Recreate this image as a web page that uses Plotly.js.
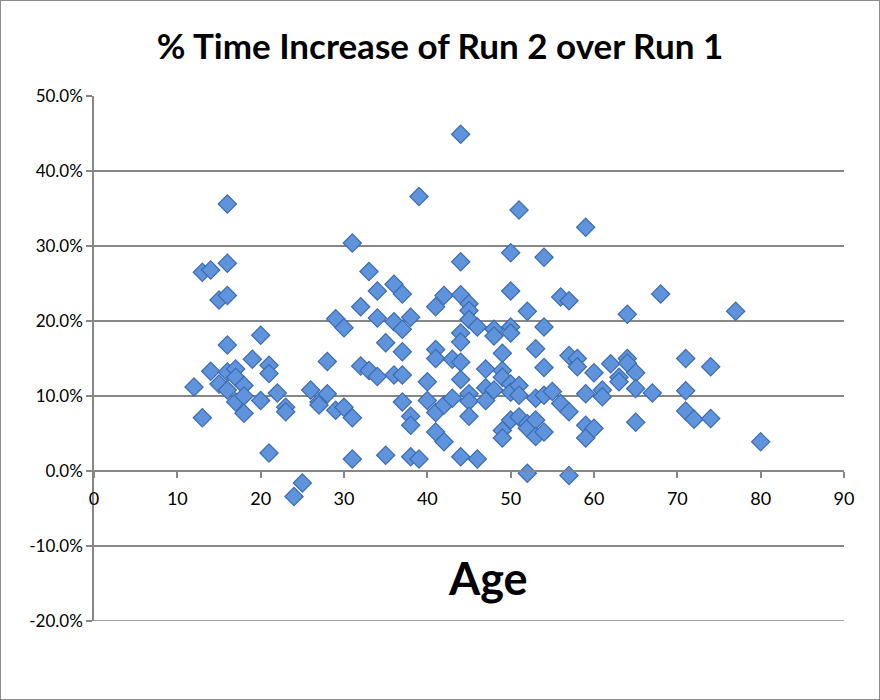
<!DOCTYPE html>
<html>
<head>
<meta charset="utf-8">
<script src="https://cdn.plot.ly/plotly-3.0.1.min.js"></script>
<style>
  body { margin: 0; background: #fff; }
  #wrap { position: relative; width: 880px; height: 700px; }
  #chart { width: 880px; height: 700px; }
  #frame {
    position: absolute; left: 0; top: 0; width: 878px; height: 698px;
    border: 1px solid #8c8c8c; pointer-events: none; z-index: 10;
  }
</style>
</head>
<body>
<div id="wrap">
  <div id="chart"></div>
  <div id="frame"></div>
</div>
<script>
// Alter der Läufer (x) und prozentuale Zeitzunahme Lauf 2 gegenüber Lauf 1 (y, in %)
const ages = [
  12, 13, 13, 14, 14, 15, 15,
  16, 16, 16, 16, 16, 16, 17, 17, 17, 18, 18, 18, 19,
  20, 20, 21, 21, 21, 22, 23, 23, 24, 25, 26, 27, 27, 28, 28, 29, 29,
  30, 30, 31, 31, 31, 32, 32, 33, 33, 34, 34, 34, 35, 35,
  36, 36, 36, 37, 37, 37, 37, 37, 38, 38, 38, 38, 39, 39,
  40, 40, 41, 41, 41, 41, 41, 42, 42, 42, 43, 43,
  44, 44, 44, 44, 44, 44, 44, 44, 45, 45, 45, 45, 45, 45,
  46, 46, 47, 47, 47, 48, 48, 48, 49, 49, 49, 49, 49,
  50, 50, 50, 50, 50, 50, 50, 51, 51, 51, 51, 52, 52, 52, 52,
  53, 53, 53, 53, 54, 54, 54, 54, 54, 55, 56, 56, 57, 57, 57, 57,
  58, 58, 59, 59, 59, 59, 60, 60, 61, 61, 62, 63, 63, 64, 64, 64,
  65, 65, 65, 67, 68, 71, 71, 71, 72, 74, 74, 77, 80
];
const increasePct = [
  11.2, 7.1, 26.5, 13.3, 26.8, 11.6, 22.8,
  35.6, 27.7, 23.4, 16.8, 13.2, 10.8, 13.6, 12.5, 9.2, 11.4, 10.0, 7.7, 14.9,
  18.1, 9.4, 14.1, 13.0, 2.4, 10.4, 8.5, 7.9, -3.4, -1.6, 10.8, 9.2, 8.8, 14.6, 10.3, 20.3, 8.1,
  19.1, 8.5, 30.4, 7.1, 1.6, 21.9, 14.0, 26.6, 13.4, 24.0, 20.4, 12.6, 17.1, 2.1,
  24.9, 19.9, 12.8, 23.6, 18.9, 15.9, 12.8, 9.2, 20.5, 7.3, 6.1, 1.9, 36.6, 1.6,
  11.9, 9.4, 21.9, 16.2, 15.0, 7.8, 5.2, 23.4, 8.8, 3.9, 14.9, 9.7,
  44.9, 27.9, 23.5, 18.4, 17.2, 14.5, 12.2, 1.9, 22.3, 21.4, 20.2, 10.3, 9.3, 7.3,
  19.2, 1.6, 13.6, 11.1, 9.4, 18.9, 18.0, 10.8, 15.7, 13.4, 12.5, 5.4, 4.4,
  29.1, 24.0, 19.2, 18.4, 11.6, 10.5, 6.8, 34.8, 11.4, 10.1, 7.2, 21.3, 6.3, 5.7, -0.3,
  16.3, 9.7, 6.8, 4.6, 28.5, 19.2, 13.8, 10.1, 5.2, 10.6, 23.2, 9.0, 22.7, 15.4, 7.9, -0.6,
  15.0, 13.9, 32.5, 10.3, 6.1, 4.4, 13.1, 5.7, 10.8, 9.9, 14.3, 12.5, 11.9, 20.9, 15.0, 14.4,
  13.1, 11.0, 6.5, 10.4, 23.6, 15.0, 10.7, 8.0, 6.9, 13.9, 7.0, 21.3, 3.9
];

// Achsenbeschriftungen
const yTickVals = [50, 40, 30, 20, 10, 0, -10, -20];
const yTickText = ["50.0%", "40.0%", "30.0%", "20.0%", "10.0%", "0.0%", "-10.0%", "-20.0%"];
const xTickVals = [0, 10, 20, 30, 40, 50, 60, 70, 80, 90];

const titel = "% Time Increase of Run 2 over Run 1";
const xTitel = "Age";

const gridGrau = "#878787";
const schrift = "Lato, 'Open Sans', sans-serif";

const trace = {
  x: ages,
  y: increasePct,
  type: "scatter",
  mode: "markers",
  marker: {
    symbol: "diamond",
    size: 14,
    color: "#5f93dc",
    line: { width: 1.2, color: "#3d6cb0" },
  },
  hoverinfo: "x+y",
};

// unterste Gitterlinie (wird von Plotly am Rand weggelassen)
const yMin = Math.min(...yTickVals);
const bottomGrid = {
  type: "line",
  xref: "paper",
  yref: "y",
  x0: 0,
  x1: 1,
  y0: yMin,
  y1: yMin,
  line: { color: gridGrau, width: 1.5 },
  layer: "below",
};

const layout = {
  width: 880,
  height: 700,
  paper_bgcolor: "#fff",
  plot_bgcolor: "#fff",
  showlegend: false,
  font: { family: schrift, color: "#000", size: 17 },
  title: {
    text: "<b>" + titel + "</b>",
    font: { family: schrift, size: 35, color: "#000" },
    x: 0.5,
    xref: "container",
    y: 0.933,
    yref: "container",
    yanchor: "middle",
  },
  margin: { l: 94, r: 36, t: 96, b: 79 },
  xaxis: {
    range: [0, 90],
    tickvals: xTickVals,
    anchor: "free",
    position: 20 / 70,
    showgrid: false,
    zeroline: false,
    showline: true,
    linecolor: gridGrau,
    linewidth: 1.5,
    ticks: "outside",
    ticklen: 6,
    tickwidth: 1.5,
    tickcolor: gridGrau,
    tickfont: { size: 18 },
    ticklabelstandoff: 6,
    fixedrange: true,
  },
  yaxis: {
    range: [-20, 50],
    tickvals: yTickVals,
    ticktext: yTickText,
    showgrid: true,
    gridcolor: gridGrau,
    gridwidth: 1.5,
    zeroline: false,
    showline: true,
    linecolor: gridGrau,
    linewidth: 1.5,
    ticks: "outside",
    ticklen: 6,
    tickwidth: 1.5,
    tickcolor: gridGrau,
    tickfont: { size: 17 },
    ticklabelstandoff: 0,
    fixedrange: true,
  },
  shapes: [bottomGrid],
  annotations: [
    {
      text: "<b>" + xTitel + "</b>",
      xref: "paper",
      yref: "paper",
      x: 0.525,
      y: 0.082,
      xanchor: "center",
      yanchor: "middle",
      showarrow: false,
      font: { family: schrift, size: 45, color: "#000" },
    },
  ],
};

Plotly.newPlot("chart", [trace], layout, { displayModeBar: false });
</script>
</body>
</html>
